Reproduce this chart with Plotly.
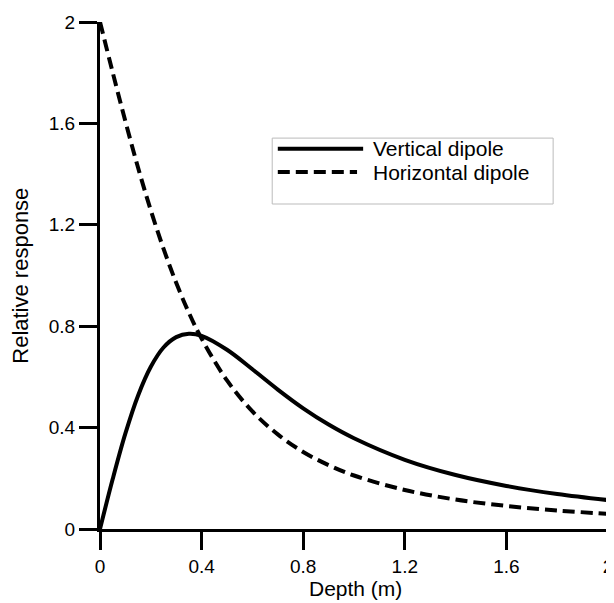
import plotly.graph_objects as go

depth = [0, 0.05, 0.1, 0.15, 0.2, 0.25, 0.3, 0.35, 0.4, 0.5, 0.6, 0.7, 0.8, 0.9,
         1.0, 1.2, 1.4, 1.6, 1.8, 2.0]
vertical = [0, 0.197, 0.377, 0.527, 0.640, 0.716, 0.757, 0.770, 0.762, 0.707,
            0.630, 0.550, 0.476, 0.412, 0.358, 0.273, 0.213, 0.170, 0.138, 0.114]
horizontal = [2.0, 1.801, 1.608, 1.425, 1.257, 1.106, 0.971, 0.853, 0.751, 0.586,
              0.464, 0.373, 0.304, 0.252, 0.211, 0.154, 0.116, 0.091, 0.073, 0.060]
series_names = ["Vertical dipole", "Horizontal dipole"]
ticks = [0, 0.4, 0.8, 1.2, 1.6, 2]
tick_text = ["0", "0.4", "0.8", "1.2", "1.6", "2"]
x_title = "Depth (m)"
y_title = "Relative response"

FONT = "Liberation Sans, Arial, sans-serif"

fig = go.Figure()
fig.add_trace(go.Scatter(x=depth, y=vertical, mode="lines", name=series_names[0],
                         line=dict(color="black", width=4, shape="spline"),
                         cliponaxis=False, showlegend=False))
fig.add_trace(go.Scatter(x=depth, y=horizontal, mode="lines", name=series_names[1],
                         line=dict(color="black", width=4, dash="12px,6px", shape="spline"),
                         cliponaxis=False, showlegend=False))

axis_common = dict(range=[0, 2], tickvals=ticks, ticktext=tick_text,
                   showline=True, linecolor="black", linewidth=3,
                   ticks="outside", ticklen=18, tickwidth=3, tickcolor="black",
                   showgrid=False, zeroline=False, automargin=False,
                   tickfont=dict(family=FONT, size=19, color="black"))

fig.update_xaxes(**axis_common)
fig.update_yaxes(**axis_common)

fig.add_annotation(xref="paper", yref="paper", x=0.502, y=-0.117, text=x_title,
                   showarrow=False, xanchor="center", yanchor="middle",
                   font=dict(family=FONT, size=21, color="black"))
fig.add_annotation(xref="paper", yref="paper", x=-0.157, y=0.5, text=y_title,
                   showarrow=False, xanchor="center", yanchor="middle", textangle=-90,
                   font=dict(family=FONT, size=22, color="black"))

# manual legend
lx0, lx1, ly0, ly1 = 0.339, 0.892, 0.641, 0.771
fig.add_shape(type="rect", xref="paper", yref="paper", x0=lx0, x1=lx1, y0=ly0, y1=ly1,
              line=dict(color="#bbbbbb", width=1), fillcolor="white", layer="above")
fig.add_shape(type="line", xref="paper", yref="paper", x0=0.350, x1=0.518, y0=0.750, y1=0.750,
              line=dict(color="black", width=4))
fig.add_shape(type="line", xref="paper", yref="paper", x0=0.350, x1=0.506, y0=0.704, y1=0.704,
              line=dict(color="black", width=4, dash="12px,6px"))
fig.add_annotation(xref="paper", yref="paper", x=0.534, y=0.750, text=series_names[0],
                   showarrow=False, xanchor="left", yanchor="middle",
                   font=dict(family=FONT, size=21, color="black"))
fig.add_annotation(xref="paper", yref="paper", x=0.534, y=0.704, text=series_names[1],
                   showarrow=False, xanchor="left", yanchor="middle",
                   font=dict(family=FONT, size=21, color="black"))

fig.update_layout(width=606, height=595, margin=dict(l=92, r=6, t=14, b=74),
                  paper_bgcolor="white", plot_bgcolor="white", showlegend=False)

fig.write_html("out.html")
